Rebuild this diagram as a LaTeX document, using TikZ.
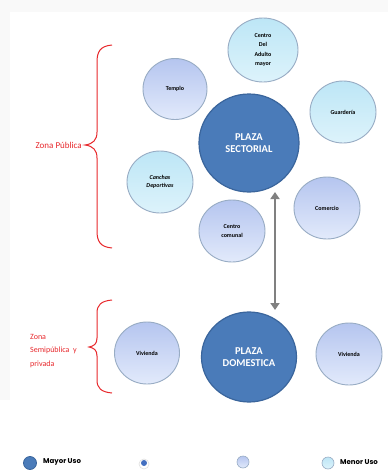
\documentclass[tikz,border=0pt]{standalone}
\usepackage{fontspec}
\setmainfont{Carlito}
\newfontfamily\legfont{Poppins}
\usetikzlibrary{shapes.geometric,arrows.meta,calc}
\definecolor{bigfill}{HTML}{4A7BB9}
\definecolor{bigdraw}{HTML}{3A659C}
\definecolor{lavtop}{HTML}{B5C5EF}
\definecolor{lavbot}{HTML}{E2EAFB}
\definecolor{cyantop}{HTML}{BDE6F6}
\definecolor{cyanbot}{HTML}{DDF3FB}
\definecolor{smalldraw}{HTML}{98ACC4}
\definecolor{zonered}{HTML}{E8282C}
\definecolor{arrowgray}{HTML}{808080}
\tikzset{
  bigc/.style={ellipse, fill=bigfill, draw=bigdraw, line width=1.2pt, text=white,
    font=\fontsize{10.5}{12}\selectfont\bfseries, align=center, inner sep=0pt},
  lavc/.style={ellipse, top color=lavtop, bottom color=lavbot, draw=smalldraw, line width=0.9pt,
    font=\fontsize{6}{9.5}\selectfont\bfseries, align=center, inner sep=0pt,
    minimum width=66pt, minimum height=62pt},
  cyanc/.style={lavc, top color=cyantop, bottom color=cyanbot},
  zonelbl/.style={text=zonered, font=\fontsize{9}{12.5}\selectfont, align=left, inner sep=0pt},
  bracel/.style={draw=zonered, line width=1pt},
  legtxt/.style={font=\legfont\fontsize{7}{8}\selectfont\bfseries, anchor=west, inner sep=0pt},
}
\begin{document}
\begin{tikzpicture}[x=1pt,y=-1pt]
\useasboundingbox (0,0) rectangle (388,474);
\fill[white] (0,0) rectangle (388,474);
\fill[gray!5] (0,0) rectangle (388,12);
\fill[gray!5] (0,12) rectangle (10,400);
% main circles
\node[bigc, minimum width=100pt, minimum height=98pt] (sect) at (249,143) {PLAZA\\SECTORIAL};
\node[bigc, minimum width=95pt, minimum height=90pt] (dom) at (249,357) {PLAZA\\DOMESTICA};
% satellites
\node[cyanc, minimum width=70pt, minimum height=64pt] (adulto) at (263,50) {Centro\\Del\\Adulto\\mayor};
\node[lavc, minimum width=64pt, minimum height=61pt] (templo) at (175,89) {Templo};
\node[cyanc] (guard) at (343,112) {Guardería};
\node[cyanc, font=\fontsize{6}{8.3}\selectfont\bfseries\itshape] (canchas) at (160,182) {Canchas\\Deportivas};
\node[lavc] (comercio) at (327,208) {Comercio};
\node[lavc] (comunal) at (232,231) {Centro\\comunal};
\node[lavc, minimum width=65pt] (viv1) at (147,353) {Vivienda};
\node[lavc] (viv2) at (349,354) {Vivienda};
% arrow
\draw[arrowgray, line width=2.4pt, {Triangle[length=7pt,width=9pt]}-{Triangle[length=7pt,width=9pt]}]
  ($(sect.center)+(26,49)$) -- ($(dom.center)+(26,-47)$);
% brace 1
\draw[bracel] (112,45) .. controls (100,46) and (97,52) .. (97,62)
  -- (97,132) .. controls (97,140) and (93,144) .. (85,145)
  .. controls (93,146) and (97,150) .. (97,158)
  -- (97,231) .. controls (97,241) and (100,247) .. (112,248);
\node[zonelbl, anchor=east] (zpub) at (82,145) {Zona Pública};
% brace 2
\draw[bracel] (112,300) .. controls (101,301) and (97,305) .. (97,313)
  -- (97,338) .. controls (97,344) and (94,346) .. (89,347)
  .. controls (94,348) and (97,350) .. (97,356)
  -- (97,380) .. controls (97,388) and (101,392) .. (112,393);
\node[zonelbl, anchor=west, font=\fontsize{8}{13.5}\selectfont] (zsemi) at (30,351) {Zona\\Semipública\ \ y\\privada};
% legend
\node[circle, fill=bigfill, draw=bigdraw, line width=0.8pt, minimum size=13pt, inner sep=0pt] (lg1) at (30,463) {};
\node[legtxt] (lt1) at (43,462) {Mayor Uso};
\node[circle, fill=white, draw=gray!25, line width=0.6pt, minimum size=10pt, inner sep=0pt] (lg2h) at (144,464) {};
\node[circle, fill=bigfill!90!blue, minimum size=6pt, inner sep=0pt] (lg2) at (144,463) {};
\node[circle, top color=lavtop, bottom color=lavbot, draw=smalldraw, line width=0.6pt, minimum size=12pt, inner sep=0pt] (lg3) at (243,462) {};
\node[circle, top color=cyantop, bottom color=cyanbot, draw=smalldraw, line width=0.6pt, minimum size=12pt, inner sep=0pt] (lg4) at (328,463) {};
\node[legtxt] (lt4) at (340,462) {Menor Uso};
\end{tikzpicture}
\end{document}
